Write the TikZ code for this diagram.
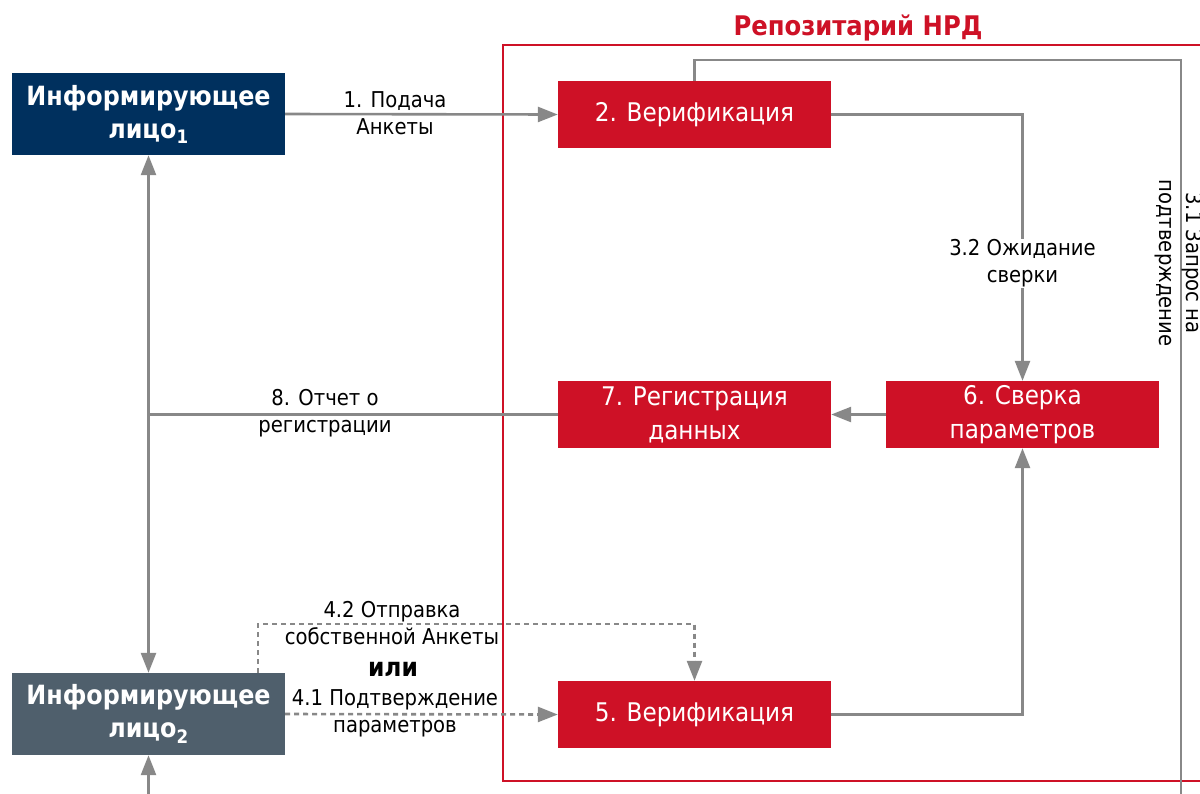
\documentclass[tikz,border=0pt]{standalone}
\usepackage{fontspec}
\setmainfont{DejaVu Sans Condensed}
\usetikzlibrary{arrows.meta,calc}
\definecolor{navyblue}{RGB}{0,48,94}
\definecolor{slate}{RGB}{79,95,108}
\definecolor{nrdred}{RGB}{206,17,38}
\definecolor{conn}{RGB}{136,136,136}
\tikzset{
  boxbase/.style={minimum width=273pt, inner sep=0pt, align=center, text=white},
  redbox/.style={boxbase, fill=nrdred, minimum height=67pt, font=\fontsize{25.7}{34}\selectfont},
  personbox/.style={boxbase, minimum height=82pt, font=\bfseries\fontsize{26.5}{33}\selectfont},
  conline/.style={draw=conn, line width=2.6pt},
  arr/.style={conline, -{Triangle[width=15pt,length=20pt]}},
  dashline/.style={conline, dash pattern=on 5pt off 4pt},
  darr/.style={dashline, -{Triangle[width=15pt,length=20pt]}},
  lbl/.style={align=center, inner sep=1pt, font=\fontsize{21.8}{27}\selectfont}
}
\begin{document}
\begin{tikzpicture}[x=1pt,y=-1pt]
\useasboundingbox (0,0) rectangle (1200,793);
\clip (0,0) rectangle (1200,793);
\fill[white] (0,0) rectangle (1200,793);
% repository frame
\draw[nrdred, line width=2.4pt] (503,45) rectangle (1230,781);
\node[font=\bfseries\fontsize{27}{30}\selectfont, text=nrdred] (title) at (858,28) {Репозитарий НРД};
% nodes
\node[personbox, fill=navyblue] (i1) at (148.5,114) {Информирующее\\лицо$_{\mathbf{1}}$};
\node[personbox, fill=slate] (i2) at (148.5,714) {Информирующее\\лицо$_{\mathbf{2}}$};
\node[redbox] (b2) at (694.5,114.5) {2. Верификация};
\node[redbox] (b7) at (694.5,414.5) {7. Регистрация\\данных};
\node[redbox] (b6) at (1022.5,414.5) {6. Сверка\\параметров};
\node[redbox] (b5) at (694.5,714.5) {5. Верификация};
% coordinates
\coordinate (c2e) at (1022.5,114.5);
\coordinate (c5e) at (1022.5,714.5);
\coordinate (top1) at (694.5,60);
\coordinate (top2) at (1181,60);
\coordinate (rbot) at (1181,800);
\coordinate (junc) at (148.5,414.5);
\coordinate (lbot) at (148.5,800);
\coordinate (d1) at (258,624);
\coordinate (d2) at (694.5,624);
% connectors
\draw[arr] (i1.east) -- (b2.west);
\draw[arr] (b2.east) -- (c2e) -- (b6.north);
\draw[conline] (b2.north) -- (top1) -- (top2) -- (rbot);
\draw[arr] (b6.west) -- (b7.east);
\draw[arr] (b5.east) -- (c5e) -- (b6.south);
\draw[conline] (b7.west) -- (junc);
\draw[arr] (junc) -- (i1.south);
\draw[arr] (junc) -- (i2.north);
\draw[arr] (lbot) -- (i2.south);
\draw[darr] (i2.east) -- (b5.west);
\draw[darr] (d1 |- i2.north) -- (d1) -- (d2) -- (b5.north);
% labels
\node[lbl] (l1) at (395,113.5) {1. Подача\\Анкеты};
\node[lbl, fill=white] (l32) at (1022.5,263.5) {3.2 Ожидание\\сверки};
\node[lbl, rotate=-90] (l31) at (1179,263) {3.1 Запрос на\\подтверждение};
\node[lbl] (l8) at (325,413.5) {8. Отчет о\\регистрации};
\node[lbl] (l42) at (392,623.5) {4.2 Отправка\\собственной Анкеты};
\node[font=\bfseries\fontsize{26}{28}\selectfont] (ili) at (393,669) {или};
\node[lbl] (l41) at (395,713.5) {4.1 Подтверждение\\параметров};
\end{tikzpicture}
\end{document}
